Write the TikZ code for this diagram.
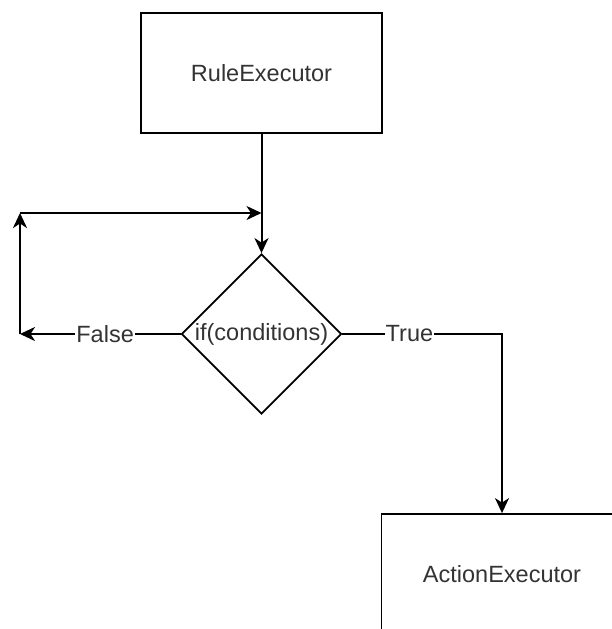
\documentclass[tikz,border=0pt]{standalone}
\usepackage{fontspec}
\setmainfont{Liberation Sans}
\usepackage{tikz}
\usetikzlibrary{
	positioning,
	arrows.meta,
	shapes.geometric
}

\begin{document}
\begin{tikzpicture}[
				x=1pt, y=-1pt,
				block/.style={
					draw,
					rectangle,
					line width=1.8pt,
					minimum width=241pt,
					minimum height=120pt,
					align=center,
					text=black!80,
					font=\fontsize{23.5}{28}\selectfont
				},
				decision/.style={
					draw,
					diamond,
					aspect=1,
					inner sep=0pt,
					line width=1.8pt,
					minimum width=160pt,
					minimum height=160pt,
					text=black!80,
					font=\fontsize{23.5}{28}\selectfont
				},
				arrow/.style={
					-{Stealth[length=15pt, width=14pt, inset=4.5pt]},
					line width=2pt
				},
				flowlabel/.style={
					fill=white,
					inner sep=1pt,
					text=black!80,
					font=\fontsize{23.5}{28}\selectfont
				}
				]
				
				\useasboundingbox (0,0) rectangle (611,629);
				
				\node[block] (rule) at (261.5,73) {RuleExecutor};
				
				\node[decision] (cond) at (261.5,334) {if(conditions)};
				
				\node[block] (action) at (502,574) {ActionExecutor};
				
				\coordinate (falseend) at (20,334);
				\coordinate (loopcorner) at (20,213);
				\coordinate (loopjoin) at (rule.south |- loopcorner);
				
				\draw[arrow] (rule) -- (cond);
				\draw[arrow] (cond) -- node[flowlabel, pos=0.47] {False} (falseend);
				\draw[arrow] (falseend) -- (loopcorner);
				\draw[arrow] (loopcorner) -- (loopjoin);
				\draw[arrow] (cond.east) -| node[flowlabel, pos=0.21] {True} (action.north);
				
			\end{tikzpicture}
\end{document}
